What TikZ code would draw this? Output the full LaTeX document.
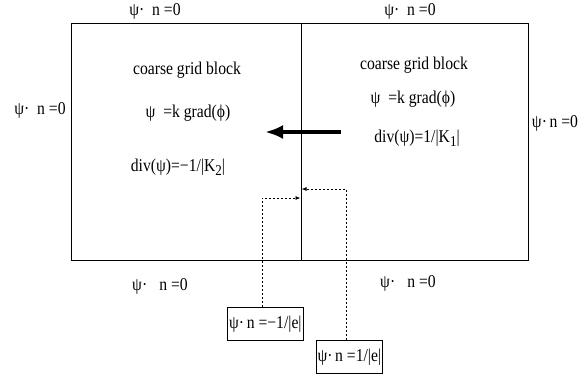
\documentclass[tikz,border=0pt]{standalone}
\usepackage{fontspec}
\setmainfont{Liberation Serif}
\usetikzlibrary{arrows.meta}
\newcommand\cz[1]{\scalebox{0.87}[1]{#1}}
\begin{document}
\begin{tikzpicture}[x=1pt,y=-1pt,
  txt/.style={inner sep=0pt, font=\fontsize{18}{20}\selectfont},
  fluxbox/.style={draw, line width=0.8pt, inner sep=0pt, minimum height=33pt, font=\fontsize{18}{20}\selectfont},
  edge/.style={line width=0.8pt},
  dotarrow/.style={line width=0.8pt, dash pattern=on 2pt off 2pt, -{Latex[length=5pt,width=4pt]}},
  bigarrow/.style={line width=4.5pt, -{Latex[length=18pt,width=14pt]}}]
\useasboundingbox (0,0) rectangle (585,376);
% blocks
\node[draw, edge, minimum width=230pt, minimum height=237pt, inner sep=0pt, anchor=north west] (left) at (71,23) {};
\node[draw, edge, minimum width=227pt, minimum height=237pt, inner sep=0pt, anchor=north west] (right) at (301,23) {};
% boundary labels
\node[txt] (tl) at (155,11) {\cz{ψ·\ \ n =0}};
\node[txt] (tr) at (410,11) {\cz{ψ·\ \ n =0}};
\node[txt] (ll) at (40,110) {\cz{ψ·\ \ n =0}};
\node[txt] (rl) at (555,123) {\cz{ψ·\,n =0}};
\node[txt] (bl) at (160,286) {\cz{ψ·\hspace{14pt}n =0}};
\node[txt] (br) at (408,283) {\cz{ψ·\hspace{14pt}n =0}};
% left block text
\node[txt] (l1) at (187,70) {\cz{coarse grid block}};
\node[txt] (l2) at (188,113) {\cz{ψ\ \ =k grad(ϕ)}};
\node[txt] (l3) at (178,167) {\cz{div(ψ)=−1/|K\raisebox{-4pt}{\fontsize{15}{15}\selectfont 2}|}};
% right block text
\node[txt] (r1) at (414,65) {\cz{coarse grid block}};
\node[txt] (r2) at (413,99) {\cz{ψ\ \ =k grad(ϕ)}};
\node[txt] (r3) at (417,138) {\cz{div(ψ)=1/|K\raisebox{-4pt}{\fontsize{15}{15}\selectfont 1}|}};
% thick arrow
\coordinate (as) at (341,132);
\coordinate (ae) at (265,132);
\draw[bigarrow] (as) -- (ae);
% flux boxes
\node[fluxbox, minimum width=76pt, anchor=north west] (b1) at (227,307) {\cz{ψ·\,n =−1/|e|}};
\node[fluxbox, minimum width=66pt, anchor=north west] (b2) at (316,340) {\cz{ψ·\,n =1/|e|}};
% dotted connectors
\coordinate (d1) at (300.5,198);
\coordinate (d2) at (301.5,189);
\draw[dotarrow] ([xshift=-3pt]b1.north) |- (d1);
\draw[dotarrow] ([xshift=-3pt]b2.north) |- (d2);
\end{tikzpicture}
\end{document}
